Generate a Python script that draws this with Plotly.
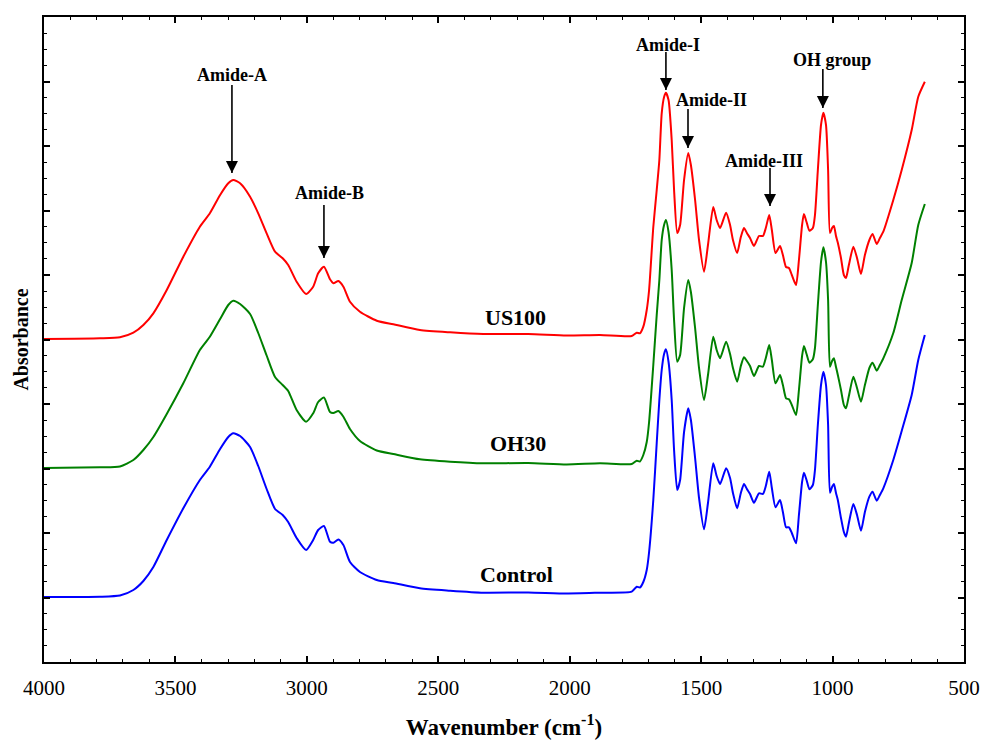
import plotly.graph_objects as go

# Wavenumber grid (cm^-1), shared by all spectra
wavenumber = [4000, 3787, 3711, 3660, 3622, 3584, 3533, 3470, 3407, 3369, 3330, 3299, 3280, 3254, 3216,
              3185, 3153, 3121, 3092, 3071, 3039, 3003, 2976, 2957, 2935, 2912, 2899, 2880, 2861, 2836,
              2798, 2734, 2671, 2570, 2455, 2329, 2158, 2012, 1885, 1764, 1745, 1733, 1720, 1707, 1698,
              1682, 1669, 1659, 1650, 1641, 1634, 1624, 1612, 1603, 1591, 1580, 1565, 1549, 1539, 1523,
              1508, 1489, 1474, 1454, 1441, 1428, 1405, 1390, 1379, 1363, 1349, 1337, 1326, 1314, 1299,
              1280, 1265, 1254, 1241, 1231, 1217, 1200, 1189, 1177, 1166, 1155, 1139, 1128, 1116, 1109,
              1099, 1088, 1075, 1067, 1056, 1044, 1035, 1025, 1017, 1010, 1002, 995, 987, 980, 968,
              957, 949, 938, 921, 907, 892, 877, 860, 848, 832, 820, 807, 769, 737, 699, 674, 649]

# Offset absorbance (a.u.) for each sample
us100 = [3.23, 3.237, 3.247, 3.293, 3.37, 3.487, 3.72, 4.053, 4.353, 4.487, 4.67, 4.787, 4.82, 4.787, 4.653,
         4.487, 4.287, 4.103, 4.037, 3.97, 3.803, 3.68, 3.753, 3.887, 3.953, 3.827, 3.787, 3.81, 3.753, 3.603,
         3.503, 3.413, 3.377, 3.32, 3.297, 3.28, 3.28, 3.265, 3.27, 3.26, 3.293, 3.287, 3.353, 3.52, 3.72,
         4.35, 4.72, 5.02, 5.487, 5.65, 5.693, 5.62, 5.22, 4.72, 4.29, 4.37, 4.82, 5.09, 4.97, 4.62,
         4.22, 3.903, 4.17, 4.55, 4.42, 4.34, 4.493, 4.37, 4.22, 4.09, 4.25, 4.34, 4.29, 4.24, 4.16,
         4.26, 4.26, 4.34, 4.47, 4.32, 4.09, 4.16, 4.07, 3.95, 3.94, 3.87, 3.77, 4.02, 4.37, 4.48,
         4.40, 4.313, 4.34, 4.47, 4.92, 5.37, 5.493, 5.37, 4.92, 4.29, 4.34, 4.36, 4.26, 4.193, 4.04,
         3.87, 3.84, 3.97, 4.153, 4.04, 3.88, 4.07, 4.22, 4.28, 4.18, 4.24, 4.303, 4.62, 4.92, 5.32, 5.653, 5.803]

oh30 = [1.94, 1.947, 1.955, 2.02, 2.12, 2.25, 2.48, 2.787, 3.12, 3.253, 3.43, 3.57, 3.613, 3.58, 3.48,
        3.29, 3.065, 2.85, 2.77, 2.71, 2.52, 2.403, 2.487, 2.60, 2.645, 2.50, 2.49, 2.51, 2.453, 2.33,
        2.21, 2.115, 2.08, 2.027, 2.003, 1.987, 1.99, 1.975, 1.987, 1.98, 2.013, 2.005, 2.07, 2.20, 2.40,
        2.97, 3.47, 3.82, 4.22, 4.37, 4.42, 4.30, 3.92, 3.42, 3.003, 3.07, 3.54, 3.82, 3.70, 3.34,
        2.94, 2.62, 2.87, 3.253, 3.12, 3.037, 3.203, 3.08, 2.94, 2.803, 2.96, 3.047, 3.01, 2.96, 2.86,
        2.96, 2.953, 3.04, 3.17, 3.02, 2.787, 2.87, 2.77, 2.637, 2.627, 2.57, 2.47, 2.72, 3.06, 3.16,
        3.08, 2.993, 3.027, 3.14, 3.57, 4.00, 4.147, 4.00, 3.62, 2.953, 3.01, 3.037, 2.95, 2.87, 2.72,
        2.57, 2.537, 2.66, 2.853, 2.74, 2.603, 2.77, 2.94, 2.993, 2.913, 2.97, 3.037, 3.29, 3.62, 3.99, 4.37, 4.58]

control = [0.65, 0.653, 0.665, 0.72, 0.81, 0.95, 1.22, 1.537, 1.82, 1.953, 2.13, 2.25, 2.287, 2.26, 2.15,
           1.96, 1.73, 1.53, 1.47, 1.40, 1.24, 1.12, 1.22, 1.32, 1.36, 1.203, 1.193, 1.225, 1.17, 1.00,
           0.90, 0.82, 0.79, 0.737, 0.713, 0.693, 0.695, 0.685, 0.693, 0.703, 0.753, 0.745, 0.80, 0.92, 1.10,
           1.62, 2.19, 2.62, 2.92, 3.08, 3.127, 3.00, 2.62, 2.12, 1.72, 1.82, 2.30, 2.537, 2.42, 2.04,
           1.64, 1.327, 1.59, 1.987, 1.86, 1.78, 1.937, 1.84, 1.69, 1.537, 1.69, 1.78, 1.73, 1.68, 1.593,
           1.687, 1.68, 1.76, 1.903, 1.74, 1.547, 1.62, 1.50, 1.347, 1.347, 1.29, 1.187, 1.47, 1.80, 1.893,
           1.82, 1.727, 1.77, 1.92, 2.37, 2.77, 2.903, 2.77, 2.37, 1.693, 1.75, 1.78, 1.69, 1.62, 1.44,
           1.30, 1.253, 1.39, 1.58, 1.47, 1.313, 1.50, 1.653, 1.703, 1.613, 1.67, 1.737, 2.02, 2.31, 2.67, 3.02, 3.27]

series_names = ["US100", "OH30", "Control"]
series_colors = ["#FF0000", "#008000", "#0000FF"]
label_wn = [2208, 2197, 2204]
label_y = [3.45, 2.19, 0.88]

# Band annotations: label, label position, arrow x, arrow tail and tip y
band_labels = ["Amide-A", "Amide-B", "Amide-I", "Amide-II", "Amide-III", "OH group"]
band_text_x = [3285, 2912, 1626, 1459, 1261, 1002]
band_text_y = [5.87, 4.69, 6.17, 5.62, 5.01, 6.02]
band_arrow_x = [3285, 2935, 1634, 1550, 1238, 1037]
band_arrow_tail = [5.77, 4.57, 6.10, 5.53, 4.94, 5.93]
band_arrow_tip = [4.89, 4.04, 5.72, 5.14, 4.56, 5.54]

SERIF = "Liberation Serif"

fig = go.Figure()
for name, ys, col in zip(series_names, [us100, oh30, control], series_colors):
    fig.add_trace(go.Scatter(x=wavenumber, y=ys, mode="lines", name=name,
                             line=dict(color=col, width=2, shape="spline", smoothing=0.6),
                             showlegend=False, hoverinfo="skip"))

# arrows: shafts + arrow heads
for axx, tail, tip in zip(band_arrow_x, band_arrow_tail, band_arrow_tip):
    fig.add_trace(go.Scatter(x=[axx, axx], y=[tail, tip], mode="lines",
                             line=dict(color="black", width=1.6),
                             showlegend=False, hoverinfo="skip"))
fig.add_trace(go.Scatter(x=band_arrow_x, y=band_arrow_tip, mode="markers",
                         marker=dict(symbol="arrow-down", size=12, color="black",
                                     line=dict(width=0)),
                         showlegend=False, hoverinfo="skip"))

annotations = []
for name, lx, ly in zip(series_names, label_wn, label_y):
    annotations.append(dict(x=lx, y=ly, xref="x", yref="y", text=name, showarrow=False,
                            font=dict(family=SERIF, size=22, color="black", weight="bold")))
for lab, tx, ty in zip(band_labels, band_text_x, band_text_y):
    annotations.append(dict(x=tx, y=ty, xref="x", yref="y", text=lab, showarrow=False,
                            font=dict(family=SERIF, size=18, color="black", weight="bold")))

fig.update_layout(
    width=984, height=740,
    margin=dict(l=44, r=20, t=17, b=78),
    paper_bgcolor="white", plot_bgcolor="white",
    annotations=annotations,
    font=dict(family=SERIF, color="black"),
    hovermode=False,
)
fig.update_xaxes(
    range=[4000, 500], tick0=500, dtick=500, ticks="inside", ticklen=6, tickwidth=1.5,
    tickcolor="black", minor=dict(dtick=100, ticks="inside", ticklen=3, tickwidth=1.2, tickcolor="black"),
    showline=True, linewidth=2, linecolor="black", mirror="allticks", showgrid=False, zeroline=False,
    tickfont=dict(family=SERIF, size=21, color="black"), ticklabelstandoff=6,
    automargin=False,
    title=dict(text="Wavenumber (cm<sup>-1</sup>)", standoff=21,
               font=dict(family=SERIF, size=23, color="black", weight="bold")),
)
fig.update_yaxes(
    range=[0, 6.45], tick0=0, dtick=0.645, ticks="inside", ticklen=6, tickwidth=1.5,
    tickcolor="black", minor=dict(dtick=0.16125, ticks="inside", ticklen=3, tickwidth=1.2, tickcolor="black"),
    showline=True, linewidth=2, linecolor="black", mirror="allticks", showgrid=False, zeroline=False,
    showticklabels=False, automargin=False,
    title=dict(text="Absorbance", standoff=8,
               font=dict(family=SERIF, size=20, color="black", weight="bold")),
)

# remove the browser's default 8px page margin so the figure fills the window exactly
fig.write_html("out.html", config={"displayModeBar": False},
               post_script="document.body.style.margin='0';document.body.style.overflow='hidden';")
